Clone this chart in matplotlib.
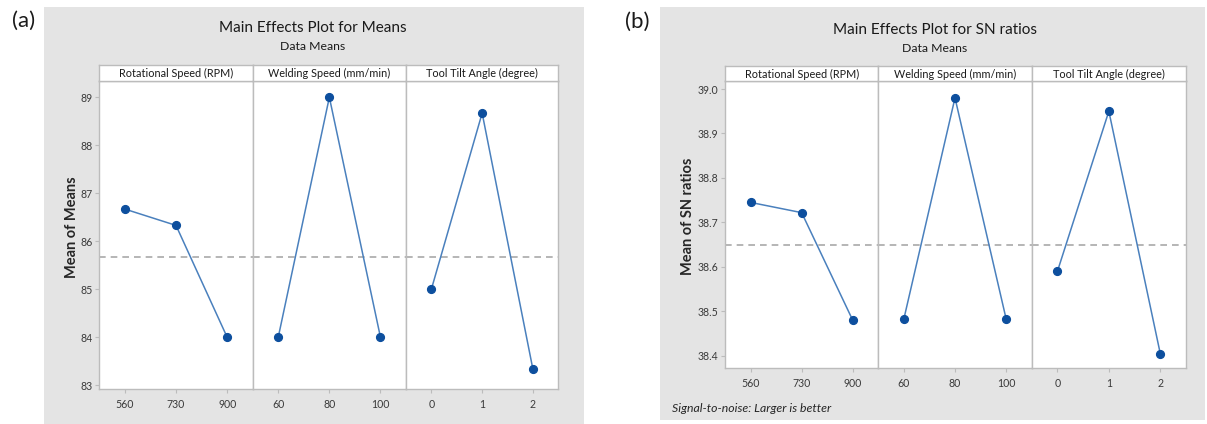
import numpy as np
import matplotlib
matplotlib.use("Agg")
import matplotlib.pyplot as plt
from matplotlib.patches import Rectangle

# ---------------- data ----------------
factor_names = ["Rotational Speed (RPM)", "Welding Speed (mm/min)", "Tool Tilt Angle (degree)"]
rot_levels = ["560", "730", "900"]
weld_levels = ["60", "80", "100"]
tilt_levels = ["0", "1", "2"]

means_rot = [86.67, 86.33, 84.00]
means_weld = [84.00, 89.00, 84.00]
means_tilt = [85.00, 88.67, 83.33]

sn_rot = [38.745, 38.722, 38.480]
sn_weld = [38.483, 38.980, 38.483]
sn_tilt = [38.590, 38.950, 38.405]

means_yticks = [83, 84, 85, 86, 87, 88, 89]
sn_yticks = [38.4, 38.5, 38.6, 38.7, 38.8, 38.9, 39.0]

# ---------------- layout ----------------
W, H = 1207, 424
FONT = ["Lato", "DejaVu Sans"]
plt.rcParams["font.family"] = FONT

fig = plt.figure(figsize=(W / 100, H / 100), dpi=100)
fig.patch.set_facecolor("white")

GREY_BG = "#e4e4e4"
SPINE = "#bcbcbc"
LINE_C = "#4a80bd"
MARK_C = "#0d4f9e"
TICK_C = "#3a3a3a"


def px_axes(x0, y0, x1, y1, **kw):
    return fig.add_axes([x0 / W, 1 - y1 / H, (x1 - x0) / W, (y1 - y0) / H], **kw)


def grey_box(x0, y0, x1, y1):
    fig.patches.append(Rectangle((x0 / W, 1 - y1 / H), (x1 - x0) / W, (y1 - y0) / H,
                                 transform=fig.transFigure, facecolor=GREY_BG,
                                 edgecolor="none", zorder=-5))


def draw_panel(xs, ytop, ybot, strip_top, series, levels, yticks, ylim, ylabel_text,
               ylabel_x, title, title_cx, title_y, sub_y):
    allvals = np.concatenate([np.asarray(s, float) for s in series])
    grand = allvals.mean()
    for i in range(3):
        ax = px_axes(xs[i], ytop, xs[i + 1], ybot)
        ax.set_facecolor("white")
        ax.plot(range(3), series[i], color=LINE_C, lw=1.1, zorder=3)
        ax.plot(range(3), series[i], "o", color=MARK_C, ms=5.6, zorder=4)
        ax.axhline(grand, color="#a9a9a9", lw=1.2, ls=(0, (4, 3)), zorder=2)
        ax.set_xlim(-0.5, 2.5)
        ax.set_ylim(*ylim)
        ax.set_xticks(range(3))
        ax.set_xticklabels(levels[i])
        ax.set_yticks(yticks)
        for sp in ax.spines.values():
            sp.set_color(SPINE)
            sp.set_linewidth(1.0)
        ax.tick_params(axis="x", length=3, width=0.8, color=SPINE, labelsize=7.6,
                       labelcolor=TICK_C, pad=4)
        if i == 0:
            ax.tick_params(axis="y", length=3, width=0.8, color=SPINE, labelsize=7.6,
                           labelcolor=TICK_C, pad=2)
            if isinstance(yticks[0], float):
                ax.set_yticklabels([f"{v:.1f}" for v in yticks])
        else:
            ax.tick_params(axis="y", length=0, labelleft=False)
        # strip
        st = px_axes(xs[i], strip_top, xs[i + 1], ytop)
        st.set_facecolor("white")
        st.set_xticks([])
        st.set_yticks([])
        for sp in st.spines.values():
            sp.set_color(SPINE)
            sp.set_linewidth(1.0)
        st.text(0.5, 0.45, factor_names[i], ha="center", va="center", fontsize=7.8,
                color="#1a1a1a", transform=st.transAxes)
    fig.text(ylabel_x / W, 1 - ((ytop + ybot) / 2 - 8) / H, ylabel_text, rotation=90,
             ha="center", va="center", fontsize=10.5, fontweight="bold", color="#262626")
    fig.text(title_cx / W, 1 - title_y / H, title, ha="center", va="center",
             fontsize=11, color="#1a1a1a")
    fig.text(title_cx / W, 1 - sub_y / H, "Data Means", ha="center", va="center",
             fontsize=8.8, color="#1a1a1a")


# panel (a)
grey_box(44, 7, 584, 424)
draw_panel([99.3, 252.7, 406, 558.3], 80.5, 389, 65,
           [means_rot, means_weld, means_tilt], [rot_levels, weld_levels, tilt_levels],
           means_yticks, (82.92, 89.35), "Mean of Means", 72,
           "Main Effects Plot for Means", 313, 28, 47)

# panel (b)
grey_box(660, 7, 1205, 420)
draw_panel([725, 878.3, 1031.7, 1186], 81, 368.3, 65.7,
           [sn_rot, sn_weld, sn_tilt], [rot_levels, weld_levels, tilt_levels],
           sn_yticks, (38.372, 39.018), "Mean of SN ratios", 688,
           "Main Effects Plot for SN ratios", 935, 30, 48)

fig.text(672 / W, 1 - 408 / H, "Signal-to-noise: Larger is better", ha="left", va="center",
         fontsize=8.8, style="italic", color="#262626")

fig.text(24 / W, 1 - 21 / H, "(a)", ha="center", va="center", fontsize=16, color="#1a1a1a")
fig.text(637 / W, 1 - 22 / H, "(b)", ha="center", va="center", fontsize=16, color="#1a1a1a")

fig.savefig("out.png", dpi=100, facecolor="white")
